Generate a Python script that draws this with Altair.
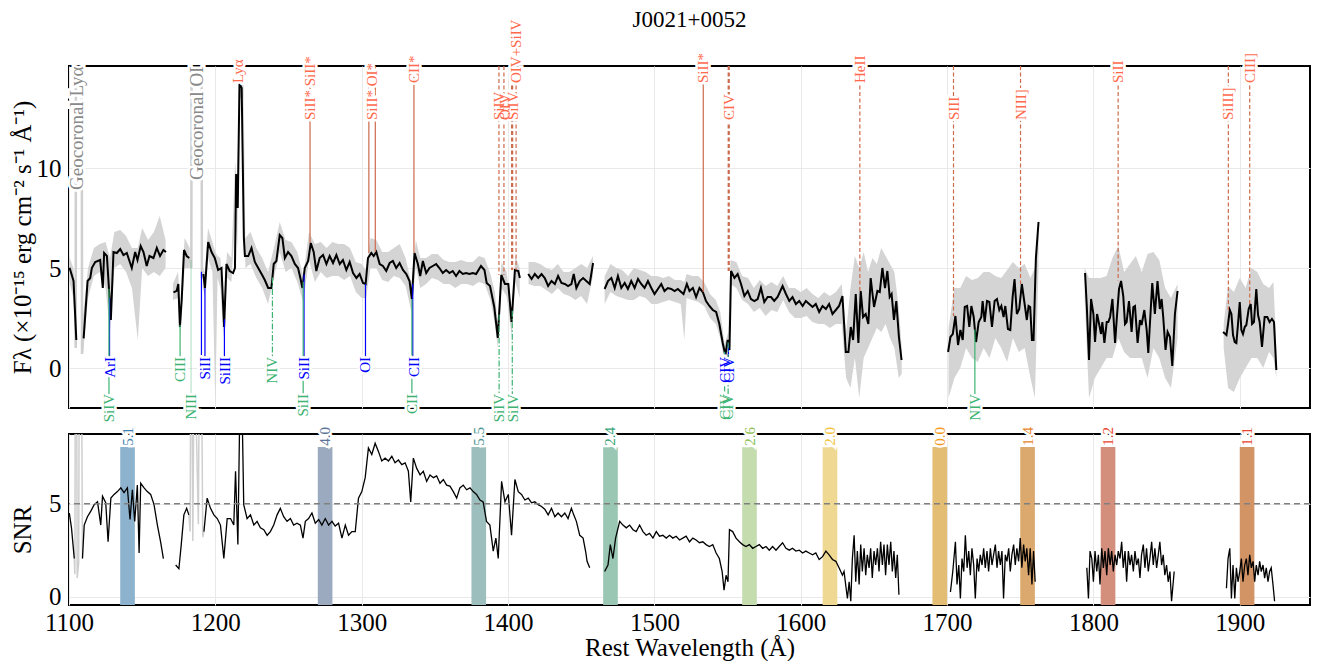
import altair as alt
import pandas as pd
import numpy as np

TITLE = "J0021+0052"
FONT = "Liberation Serif"

# ---------------- smoothed flux (black), None = gap ----------------
flux_wave = [1100.4, 1103.1, 1105.0, None,
             1110.0, 1112.7, 1114.5, 1115.6, 1117.9, 1121.3, 1123.1, 1124.0, 1125.9, 1127.7, 1128.6, 1130.4,
             1132.7, 1135.0, 1137.2, 1139.5, 1142.9, 1145.2, 1146.8, 1149.0, 1150.9, 1153.1, 1155.0, 1157.7,
             1160.0, 1162.2, 1164.5, 1166.3, None,
             1171.4, 1173.6, 1174.7, 1175.8, 1177.0, 1178.6, 1180.4, 1182.2, None,
             1191.8, 1192.9, 1195.1, 1197.4, 1199.6, 1201.9, 1204.2, 1206.0, 1207.6, 1209.8, 1212.1, 1213.4,
             1214.2, 1215.3, 1216.5, 1218.0, 1219.5, 1220.2, 1222.5, 1224.7, 1227.0, 1229.3, 1231.6, 1233.8,
             1236.1, 1238.3, 1239.9, 1241.7, 1244.0, 1245.8, 1247.5, 1249.7, 1252.0, 1254.3, 1256.5, 1258.1,
             1259.5, 1261.1, 1263.4, 1265.2, 1267.2, 1269.0, 1271.3, 1273.6, 1275.9, 1278.1, 1280.4, 1282.7,
             1285.0, 1287.2, 1289.5, 1291.8, 1294.1, 1296.4, 1298.6, 1300.9, 1302.7, 1304.3, 1306.6, 1308.2,
             1310.0, 1312.3, 1314.5, 1316.8, 1319.1, 1321.3, 1323.6, 1325.9, 1328.2, 1330.5, 1332.7, 1334.3,
             1336.1, 1338.4, 1340.0, 1341.8, 1344.1, 1346.3, 1348.6, 1350.9, 1353.1, 1355.4, 1357.7, 1360.0,
             1362.2, 1364.5, 1366.8, 1369.1, 1371.3, 1373.6, 1375.9, 1378.2, 1381.5, 1383.9, 1385.4, 1387.7,
             1390.6, 1393.0, 1395.4, 1397.9, 1400.2, 1402.4, 1404.7, 1407.0, 1408.1, None,
             1413.8, 1416.1, 1418.3, 1420.6, 1422.9, 1425.1, 1427.4, 1429.7, 1432.0, 1434.2, 1436.5, 1438.8,
             1441.0, 1443.3, 1444.9, 1446.7, 1449.0, 1451.3, 1453.5, 1455.8, 1458.1, None,
             1466.0, 1468.3, 1470.6, 1472.9, 1475.1, 1477.4, 1479.7, 1481.9, 1484.2, 1486.5, 1488.8, 1491.0,
             1493.3, 1495.6, 1497.9, 1500.1, 1502.4, 1504.7, 1506.9, 1509.2, 1511.5, 1513.8, 1516.0, 1518.3,
             1519.9, 1522.2, 1524.0, 1526.3, 1528.5, 1530.8, 1533.1, 1535.3, 1537.6, 1539.9, 1542.2, 1544.4,
             1546.7, 1548.5, 1550.1, 1551.3, 1552.4, 1554.7, 1556.9, 1559.2, 1561.5, 1563.8, 1566.0, 1568.3,
             1570.6, 1572.8, 1575.1, 1577.4, 1579.7, 1581.9, 1584.2, 1587.6, 1589.9, 1592.2, 1594.4, 1596.7,
             1599.0, 1601.3, 1603.5, 1605.8, 1608.1, 1610.3, 1612.6, 1614.9, 1617.2, 1619.4, 1621.7, 1624.0,
             1626.2, 1628.5, 1630.8, 1632.6, 1634.2, 1635.8, 1637.6, 1639.4, 1641.0, 1642.6, 1644.4, 1646.2,
             1647.8, 1650.1, 1652.4, 1654.0, 1655.8, 1657.6, 1659.2, 1660.8, 1662.1, 1663.7, 1665.3, 1667.1,
             1668.9, None,
             1700.7, 1702.3, 1703.9, 1705.7, 1707.5, 1709.1, 1710.7, 1712.1, 1713.7, 1715.2, 1716.6, 1718.2,
             1719.8, 1721.6, 1723.4, 1724.3, 1725.7, 1727.3, 1728.9, 1730.7, 1732.5, 1734.1, 1735.7, 1737.1,
             1738.6, 1739.8, 1741.6, 1743.2, 1744.8, 1746.1, 1747.7, 1749.3, 1751.1, 1753.0, 1754.5, 1755.7,
             1756.8, 1758.0, 1759.1, 1760.7, 1762.5, None,
             1794.3, 1795.5, 1797.0, 1798.4, 1800.0, 1801.1, 1802.5, 1803.9, 1805.2, 1806.1, 1807.5, 1809.1,
             1810.2, 1811.4, 1813.0, 1814.8, 1815.9, 1817.5, 1818.9, 1820.4, 1821.6, 1822.7, 1824.3, 1826.1,
             1827.3, 1828.4, 1830.2, 1831.8, 1832.9, 1834.8, 1836.4, 1837.5, 1838.6, 1840.2, 1842.0, 1843.8,
             1845.4, 1846.6, 1847.7, 1849.3, 1850.7, 1852.3, 1853.9, 1855.7, 1857.5, None,
             1888.6, 1890.9, 1892.0, 1893.2, 1894.3, 1895.4, 1896.6, 1897.7, 1898.8, 1900.0, 1901.1, 1902.2,
             1903.4, 1904.5, 1906.1, 1907.5, 1908.4, 1909.7, 1911.3, 1912.5, 1913.6, 1915.2, 1917.0, 1918.8,
             1920.4, 1922.0, 1923.4, 1925.0]
flux_smooth = [5.01, 4.35, 1.40, None,
               1.48, 4.35, 4.5, 5.0, 5.3, 5.4, 4.0, 5.75, 5.6, 3.5, 2.4, 5.8,
               5.75, 5.95, 5.65, 5.75, 5.0, 5.8, 5.4, 6.1, 5.8, 5.1, 5.6, 5.5,
               6.0, 5.6, 5.9, 5.8, None,
               3.78, 3.86, 4.2, 2.05, 3.4, 5.9, 5.6, 5.5, None,
               4.7, 4.0, 6.3, 5.8, 5.5, 4.9, 5.0, 2.05, 5.2, 4.85, 4.75, 5.0,
               9.7, 8.0, 14.2, 14.0, 6.5, 5.6, 5.6, 6.0, 5.3, 5.0, 4.7, 4.4,
               4.0, 4.0, 5.2, 5.35, 6.65, 6.5, 5.5, 5.8, 5.6, 5.2, 5.0, 4.5,
               4.0, 5.0, 5.35, 6.25, 5.8, 4.85, 5.5, 5.65, 5.2, 5.6, 5.25, 5.65,
               5.2, 5.4, 4.9, 5.3, 4.75, 4.5, 4.7, 4.25, 4.2, 5.5, 5.75, 5.6,
               5.8, 5.2, 5.1, 4.85, 5.25, 5.35, 5.0, 5.25, 4.9, 4.7, 4.35, 3.45,
               5.75, 5.2, 4.6, 5.35, 4.75, 5.0, 5.1, 5.2, 5.0, 4.75, 4.9, 4.75,
               4.85, 4.6, 4.85, 4.7, 4.75, 4.7, 4.75, 4.7, 5.1, 4.9, 4.25, 4.1,
               3.05, 1.5, 4.65, 4.2, 4.2, 2.3, 4.9, 4.85, 4.5, None,
               4.7, 4.45, 4.7, 4.5, 4.7, 4.5, 4.1, 4.35, 4.2, 4.6, 4.25, 4.2,
               4.1, 4.2, 4.7, 4.0, 4.35, 4.5, 4.35, 4.2, 5.25, None,
               3.95, 4.35, 4.5, 4.0, 4.6, 4.0, 4.25, 3.95, 4.35, 4.0, 4.45, 4.2,
               4.0, 4.35, 4.0, 3.7, 3.95, 4.2, 3.85, 4.0, 3.95, 3.85, 3.95, 3.8,
               3.7, 4.2, 3.85, 4.0, 3.55, 4.0, 3.8, 3.35, 3.1, 2.9, 2.8, 2.2,
               1.25, 0.65, 1.4, 0.9, 4.85, 4.5, 4.7, 4.2, 3.6, 3.85, 3.45, 3.35,
               3.45, 4.0, 3.3, 3.55, 3.55, 3.35, 3.55, 4.1, 3.7, 3.35, 3.55, 3.2,
               3.35, 3.1, 3.35, 3.2, 3.05, 3.2, 2.8, 3.1, 2.95, 3.2, 2.7, 2.9,
               3.1, 3.6, 0.8, 0.8, 2.05, 1.4, 3.7, 1.25, 3.85, 2.55, 2.7, 2.2,
               4.5, 3.05, 3.85, 3.8, 5.0, 4.0, 4.85, 3.55, 3.7, 2.4, 3.35, 1.55,
               0.4, None,
               0.8, 1.55, 1.7, 2.6, 1.15, 1.9, 1.4, 3.05, 3.1, 2.05, 3.1, 2.55,
               1.3, 2.3, 2.55, 3.35, 2.3, 3.35, 3.3, 2.05, 3.35, 3.45, 2.9, 3.1,
               2.55, 3.1, 1.95, 1.9, 3.55, 4.45, 2.7, 2.95, 4.2, 3.2, 2.4, 3.1,
               3.05, 1.4, 1.4, 5.5, 7.3, None,
               4.75, 3.05, 0.4, 3.45, 2.7, 1.3, 2.7, 2.2, 1.7, 2.3, 1.25, 2.3,
               2.3, 2.55, 3.45, 1.25, 2.4, 3.95, 4.35, 3.6, 2.2, 2.3, 3.35, 1.8,
               3.05, 3.1, 1.25, 2.4, 2.15, 2.9, 1.9, 0.75, 2.2, 4.25, 2.7, 4.35,
               2.95, 3.45, 2.55, 0.9, 1.8, 1.55, 0.1, 2.7, 3.85, None,
               1.8, 1.65, 2.2, 2.9, 2.7, 1.65, 1.3, 1.25, 2.2, 3.3, 1.9, 1.7,
               2.05, 2.15, 2.95, 3.2, 2.2, 2.3, 3.95, 2.65, 2.3, 1.05, 2.55, 2.55,
               2.3, 2.45, 2.3, -0.1]

# ---------------- raw flux spread (light grey envelope) ----------------
raw_wave = [1100.0, 1103.0, 1104.5, None,
            1109.5, 1113.0, 1117.0, 1121.0, 1125.0, 1128.0, 1131.0, 1135.0, 1139.0, 1143.0, 1147.0, 1150.0,
            1154.0, 1158.0, 1162.0, 1166.0, None,
            1171.0, 1174.5, 1176.0, 1179.0, 1182.5, None,
            1191.5, 1192.8, 1195.0, 1198.0, 1200.0, 1201.5, 1203.5, 1205.5, 1208.0, 1211.0, 1213.5, 1215.0,
            1216.5, 1219.0, 1220.5, 1224.0, 1228.0, 1232.0, 1236.0, 1240.0, 1244.0, 1248.0, 1252.0, 1256.0,
            1260.0, 1264.0, 1268.0, 1272.0, 1276.0, 1280.0, 1284.0, 1288.0, 1292.0, 1296.0, 1300.0, 1303.0,
            1306.0, 1310.0, 1314.0, 1318.0, 1322.0, 1326.0, 1330.0, 1334.0, 1337.0, 1340.0, 1344.0, 1348.0,
            1352.0, 1356.0, 1360.0, 1364.0, 1368.0, 1372.0, 1376.0, 1380.0, 1384.0, 1388.0, 1391.0, 1393.0,
            1395.5, 1399.0, 1402.5, 1405.0, 1408.0, None,
            1414.0, 1418.0, 1422.0, 1426.0, 1430.0, 1434.0, 1438.0, 1442.0, 1446.0, 1450.0, 1454.0, 1458.0, None,
            1466.0, 1470.0, 1474.0, 1478.0, 1482.0, 1486.0, 1490.0, 1494.0, 1498.0, 1502.0, 1506.0, 1510.0,
            1514.0, 1518.0, 1520.5, 1522.0, 1526.0, 1530.0, 1534.0, 1538.0, 1542.0, 1545.0, 1548.0, 1550.5,
            1552.0, 1556.0, 1560.0, 1564.0, 1568.0, 1572.0, 1576.0, 1580.0, 1584.0, 1588.0, 1592.0, 1596.0,
            1600.0, 1604.0, 1608.0, 1612.0, 1616.0, 1620.0, 1624.0, 1628.0, 1631.0, 1634.0, 1637.0, 1640.0,
            1643.0, 1646.0, 1649.0, 1652.0, 1655.0, 1658.0, 1661.0, 1664.0, 1667.0, 1669.0, None,
            1701.0, 1705.0, 1709.0, 1713.0, 1717.0, 1721.0, 1725.0, 1729.0, 1733.0, 1737.0, 1741.0, 1745.0,
            1749.0, 1753.0, 1757.0, 1760.0, 1762.5, None,
            1794.0, 1797.0, 1801.0, 1805.0, 1809.0, 1813.0, 1817.0, 1821.0, 1825.0, 1829.0, 1833.0, 1837.0,
            1841.0, 1845.0, 1849.0, 1853.0, 1857.5, None,
            1889.0, 1892.0, 1896.0, 1900.0, 1904.0, 1908.0, 1912.0, 1916.0, 1920.0, 1923.0, 1925.0]
raw_lo = [4.4, 3.5, 1.0, None,
          0.7, 3.5, 4.6, 4.8, 4.0, 1.8, 5.0, 5.2, 4.8, 4.0, 1.4, 5.0,
          4.6, 4.8, 4.6, 5.0, None,
          3.4, 3.5, 1.6, 5.0, 5.0, None,
          4.0, 3.6, 5.5, 4.8, -1.9, 4.5, 4.0, 1.5, 4.5, 4.3, 7.5, 6.0,
          13.5, 13.5, 5.0, 5.2, 4.5, 4.0, 3.2, 4.5, 5.8, 4.8, 5.0, 4.3,
          3.3, 5.4, 4.3, 4.8, 4.5, 4.6, 4.6, 4.4, 4.6, 3.8, 3.5, 3.5,
          5.0, 5.0, 4.4, 4.3, 4.6, 4.5, 4.1, 2.8, 5.1, 4.0, 4.2, 4.5,
          4.4, 4.2, 4.2, 4.0, 4.2, 4.2, 4.1, 4.3, 4.2, 3.4, 2.2, 1.0,
          4.0, 3.6, 1.6, 4.3, 3.5, None,
          4.2, 4.1, 4.1, 3.9, 3.7, 4.0, 3.7, 3.6, 3.4, 3.6, 3.2, 4.6, None,
          3.2, 3.8, 3.6, 3.5, 3.4, 3.4, 3.6, 3.5, 3.2, 3.2, 3.3, 3.4,
          3.3, 3.2, 1.4, 3.5, 3.4, 3.3, 3.1, 2.5, 2.2, 1.5, 0.3, 0.5,
          4.2, 4.0, 3.4, 3.2, 2.8, 3.0, 2.6, 2.9, 2.8, 3.4, 2.8, 2.5,
          2.5, 2.6, 2.3, 2.2, 2.2, 2.0, 2.2, 2.2, -0.5, -1.0, 0.5, -1.5,
          0.5, 1.0, 1.5, 2.0, 1.8, 2.2, 1.5, 1.0, -0.5, -0.3, None,
          -1.5, -0.5, 0.0, 1.0, 0.5, 0.3, 1.0, 0.5, 1.5, 1.0, 0.3, 1.5,
          0.8, 1.0, -0.5, -1.5, 5.0, None,
          3.5, -1.5, -0.5, 0.0, 0.5, 0.5, 1.5, 0.8, 0.5, 0.5, 0.5, -0.5,
          1.0, 0.5, -0.5, -1.0, 1.5, None,
          1.0, -1.0, -1.2, -0.5, 0.0, 0.5, 0.5, 0.0, 0.8, 0.5, -0.5]
raw_hi = [5.6, 5.0, 4.0, None,
          2.5, 5.0, 6.0, 6.2, 6.3, 5.5, 6.8, 6.9, 6.6, 6.0, 6.0, 7.0,
          6.4, 6.8, 7.6, 6.4, None,
          4.2, 4.8, 3.0, 6.5, 6.0, None,
          5.0, 4.8, 7.0, 6.3, 5.8, 5.6, 5.5, 3.0, 5.8, 5.5, 10.3, 9.0,
          16.0, 16.0, 6.5, 6.8, 6.0, 5.5, 4.8, 6.0, 7.3, 6.4, 6.3, 5.8,
          4.6, 6.8, 6.2, 6.3, 6.0, 6.3, 6.2, 6.2, 6.0, 5.3, 5.2, 4.9,
          6.5, 6.4, 5.8, 5.8, 6.0, 6.2, 5.5, 4.2, 6.4, 5.5, 5.5, 5.7,
          5.7, 5.4, 5.3, 5.3, 5.4, 5.3, 5.3, 5.6, 5.5, 4.7, 3.8, 2.2,
          5.3, 4.8, 2.9, 5.6, 5.0, None,
          5.3, 5.3, 5.2, 5.0, 4.9, 5.2, 4.8, 4.8, 5.0, 5.2, 5.0, 5.6, None,
          4.6, 5.2, 5.0, 4.9, 4.6, 5.0, 4.9, 4.8, 4.6, 4.6, 4.5, 4.6,
          4.4, 4.4, 4.3, 4.7, 4.6, 4.6, 4.3, 3.7, 3.4, 2.8, 1.2, 1.8,
          5.4, 5.3, 4.6, 4.5, 4.0, 4.4, 4.1, 4.3, 4.1, 4.6, 4.0, 4.0,
          3.8, 4.0, 3.7, 3.5, 3.8, 3.6, 3.8, 4.2, 1.8, 4.0, 5.6, 5.0,
          5.8, 4.8, 5.5, 5.2, 6.0, 5.6, 5.2, 4.8, 3.0, 1.0, None,
          2.0, 4.0, 4.0, 4.6, 4.4, 4.5, 4.8, 4.8, 4.6, 4.5, 4.9, 5.3,
          5.0, 5.2, 4.5, 5.0, 7.5, None,
          5.0, 4.5, 4.5, 4.5, 4.6, 5.5, 6.1, 4.8, 5.2, 5.6, 4.8, 5.7,
          5.8, 5.4, 4.0, 3.5, 4.2, None,
          2.2, 4.1, 3.8, 4.5, 4.0, 5.0, 4.8, 4.2, 4.0, 4.3, 1.0]

# geocoronal (masked) raw flux, drawn in grey, runs off the top of the panel
geo_wave = [1104.2, 1104.6, 1104.8, 1108.6, 1108.9, 1109.6, None,
            1182.5, 1183.6, 1184.0, 1190.4, 1190.8, 1191.8]
geo_flux = [2.5, 1.0, 30.0, 30.0, 0.7, 1.5, None,
            5.5, 5.0, 30.0, 30.0, 4.5, 4.7]

# ---------------- SNR (black) ----------------
snr_wave = [1100.2, 1101.7, 1103.6, None,
            1109.2, 1110.4, 1112.6, 1114.9, 1117.2, 1119.5, 1121.7, 1122.9, 1125.1, 1126.7, 1128.6, 1130.8,
            1133.1, 1135.4, 1137.6, 1139.9, 1141.7, 1143.3, 1144.9, 1146.7, 1147.9, 1149.0, 1151.3, 1153.5,
            1155.8, 1158.1, 1160.4, 1162.6, 1164.5, None,
            1172.9, 1175.1, 1176.7, 1178.5, 1180.4, 1181.9, None,
            1192.2, 1194.4, 1196.7, 1199.0, 1201.3, 1203.5, 1205.8, 1208.1, 1210.4, 1212.6, 1213.8, 1215.4,
            1216.7, 1218.3, 1219.4, 1221.7, 1224.0, 1226.3, 1228.5, 1230.8, 1233.1, 1235.4, 1237.6, 1239.9,
            1242.2, 1244.4, 1246.7, 1249.0, 1251.3, 1253.5, 1255.8, 1258.1, 1259.9, 1261.5, 1263.7, 1266.0,
            1268.3, 1270.6, 1272.8, 1275.1, 1277.4, 1279.7, 1281.9, 1284.2, 1286.5, 1288.8, 1291.0, 1293.3,
            1295.6, 1296.7, 1297.8, 1300.1, 1302.4, 1304.6, 1306.9, 1309.2, 1311.5, 1313.7, 1316.0, 1318.3,
            1320.6, 1322.8, 1325.1, 1327.4, 1329.7, 1331.9, 1333.5, 1335.3, 1337.6, 1339.9, 1342.1, 1344.4,
            1346.7, 1349.0, 1351.2, 1353.5, 1355.8, 1358.0, 1360.3, 1362.6, 1364.9, 1367.1, 1369.4, 1371.7,
            1374.0, 1376.2, 1378.5, 1380.8, 1383.0, 1385.3, 1387.6, 1389.9, 1391.7, 1393.3, 1395.6, 1397.9,
            1400.2, 1402.4, 1404.7, 1407.0, 1409.2, 1411.5, 1413.8, 1416.1, 1418.3, 1420.6, 1422.9, 1425.1,
            1427.4, 1429.7, 1432.0, 1434.2, 1436.5, 1438.8, 1441.0, 1443.3, 1444.9, 1446.7, 1449.0, 1451.3,
            1453.1, 1454.0, 1455.8, None,
            1466.0, 1468.3, 1469.9, 1471.7, 1473.5, 1476.3, 1478.5, 1480.8, 1483.1, 1485.4, 1487.6, 1489.9,
            1492.2, 1494.4, 1496.7, 1499.0, 1501.3, 1503.5, 1505.8, 1508.1, 1510.4, 1512.6, 1514.9, 1517.2,
            1519.4, 1521.7, 1524.0, 1526.3, 1528.5, 1530.8, 1533.1, 1535.3, 1537.6, 1539.9, 1542.2, 1544.4,
            1546.3, 1547.6, 1549.0, 1550.3, 1551.3, 1553.5, 1555.8, 1558.1, 1560.3, 1562.6, 1564.9, 1567.2,
            1569.4, 1571.7, 1574.0, 1576.3, 1578.5, 1580.8, 1583.1, 1585.3, 1587.6, 1589.9, 1592.2, 1594.4,
            1596.7, 1599.0, 1601.3, 1603.5, 1605.8, 1608.1, 1610.3, 1612.6, 1614.9, 1617.2, 1619.4, 1621.7,
            1624.0, 1626.2, 1628.5, 1629.6, 1631.9, 1633.1, 1634.2, 1635.3, 1636.5, 1637.6, 1638.7, 1639.9,
            1641.0, 1642.1, 1643.3, 1644.4, 1645.5, 1646.7, 1647.8, 1648.9, 1650.1, 1651.2, 1652.4, 1653.5,
            1654.6, 1655.8, 1656.9, 1658.0, 1659.2, 1660.3, 1661.5, 1662.6, 1663.7, 1664.9, 1666.0, 1667.1, None,
            1702.3, 1703.9, 1705.7, 1706.8, 1708.0, 1709.1, 1710.2, 1711.4, 1712.5, 1713.7, 1714.8, 1715.9,
            1717.0, 1718.2, 1719.3, 1720.5, 1721.6, 1722.7, 1723.9, 1725.0, 1726.1, 1727.3, 1728.4, 1729.6,
            1730.7, 1731.8, 1733.0, 1734.1, 1735.2, 1736.4, 1737.5, 1738.6, 1739.8, 1740.9, 1742.1, 1743.2,
            1744.3, 1745.5, 1746.6, 1747.7, 1748.9, 1750.0, 1751.1, 1752.3, 1753.4, 1754.5, 1755.7, 1756.8,
            1758.0, 1759.1, 1760.2, None,
            1795.5, 1796.6, 1797.7, 1798.9, 1800.0, 1801.1, 1802.3, 1803.4, 1804.5, 1805.7, 1806.8, 1807.9,
            1809.1, 1810.2, 1811.4, 1812.5, 1813.6, 1814.8, 1815.9, 1817.0, 1818.2, 1819.3, 1820.4, 1821.6,
            1822.7, 1823.9, 1825.0, 1826.1, 1827.3, 1828.4, 1829.5, 1830.7, 1831.8, 1832.9, 1834.1, 1835.2,
            1836.3, 1837.5, 1838.6, 1839.8, 1840.9, 1842.0, 1843.2, 1844.3, 1845.4, 1846.6, 1847.7, 1848.8,
            1850.0, 1851.1, 1852.3, 1853.4, 1855.2, None,
            1890.9, 1892.0, 1893.2, 1894.3, 1895.4, 1896.6, 1897.7, 1898.8, 1900.0, 1901.1, 1902.2, 1903.4,
            1904.5, 1905.6, 1906.8, 1907.9, 1909.1, 1910.2, 1911.3, 1912.5, 1913.6, 1914.7, 1915.9, 1917.0,
            1918.1, 1919.3, 1920.4, 1921.5, 1922.7, 1923.8]
snr_val = [4.5, 3.7, 2.05, None,
           2.05, 3.85, 4.3, 4.6, 4.95, 5.1, 3.85, 5.4, 5.05, 2.95, 5.3, 5.5,
           5.65, 5.85, 5.6, 5.85, 4.15, 5.75, 4.05, 6.0, 2.35, 6.1, 5.85, 5.65,
           5.5, 4.95, 3.85, 2.95, 2.05, None,
           1.7, 1.5, 2.8, 4.4, 4.75, 4.4, None,
           3.5, 5.3, 4.75, 4.4, 4.2, 3.85, 2.05, 4.2, 4.2, 3.85, 6.75, 2.8,
           10.0, 10.0, 4.95, 4.2, 4.4, 3.85, 4.05, 3.7, 3.6, 3.3, 3.5, 3.85,
           4.4, 4.75, 4.3, 4.05, 4.2, 3.85, 3.95, 3.85, 3.15, 4.05, 4.2, 4.5,
           3.95, 4.15, 3.85, 4.2, 3.85, 4.05, 3.8, 3.95, 3.15, 3.85, 3.3, 3.5,
           3.5, 4.4, 5.3, 5.65, 6.4, 8.0, 7.65, 8.25, 7.8, 7.3, 7.45, 7.3,
           7.55, 7.2, 7.35, 7.1, 7.2, 6.75, 5.1, 7.45, 6.9, 6.55, 6.75, 6.2,
           6.55, 6.4, 6.5, 6.1, 6.3, 6.0, 5.95, 5.65, 5.3, 5.85, 6.0, 5.75,
           5.85, 5.65, 5.5, 5.2, 5.1, 4.05, 3.85, 2.45, 3.15, 2.05, 6.2, 5.1,
           5.5, 3.3, 6.3, 5.65, 5.5, 5.2, 5.3, 5.05, 5.1, 4.95, 4.85, 4.7,
           4.4, 4.75, 4.3, 4.5, 4.3, 4.5, 4.2, 4.75, 4.4, 4.05, 3.3, 3.15,
           2.4, 1.9, 1.55, None,
           1.35, 1.7, 2.8, 2.05, 3.15, 4.05, 3.85, 3.7, 3.85, 3.6, 3.5, 3.85,
           3.5, 3.3, 3.4, 3.15, 3.5, 3.25, 3.3, 3.15, 3.3, 3.15, 3.25, 3.05,
           3.15, 3.25, 2.95, 3.15, 3.05, 2.9, 2.95, 2.8, 2.7, 2.8, 2.35, 2.05,
           1.35, 0.35, 1.15, 0.8, 3.6, 3.5, 3.15, 2.95, 2.8, 2.7, 2.8, 2.6,
           2.7, 2.8, 2.6, 2.7, 2.5, 2.7, 2.5, 2.7, 2.9, 2.6, 2.5, 2.6,
           2.45, 2.5, 2.35, 2.45, 2.35, 2.25, 2.35, 2.0, 2.15, 2.45, 2.25, 2.0,
           1.9, 1.55, 1.15, 1.35, -0.1, 0.8, -0.25, 2.05, 3.3, 0.8, 2.45, 0.65,
           2.8, 1.35, 2.6, 1.15, 2.25, 1.55, 2.6, 1.0, 2.45, 1.7, 2.6, 1.35,
           2.95, 1.7, 2.8, 1.15, 2.8, 1.7, 2.95, 1.35, 2.45, 1.0, 2.25, 0.1, None,
           0.25, 1.35, 2.95, 0.65, 1.7, -0.1, 2.05, 1.35, 3.3, 1.55, 2.45, 1.15,
           2.6, 1.7, -0.1, 2.05, 1.35, 2.25, 1.7, 2.6, 1.55, 2.45, 1.35, 2.6,
           1.7, 2.25, 2.8, 1.55, 2.45, 1.7, 2.45, -0.1, 2.25, 1.9, 2.6, 1.35,
           2.25, 2.8, 1.7, 2.6, 1.9, 3.15, 1.55, 2.8, 1.9, 2.6, 1.15, 2.6,
           0.65, 2.45, 0.8, None,
           1.55, -0.1, 2.45, 2.05, 0.8, 2.45, 1.35, 2.25, 0.65, 2.6, 1.55, 2.45,
           1.15, 2.6, 1.7, 2.45, 1.35, 2.25, 1.7, 2.45, 2.05, 2.95, 1.55, 2.45,
           0.8, 2.45, 1.7, 2.25, 1.35, 2.45, 1.7, 2.05, 1.0, 2.25, 2.8, 1.55,
           2.6, 1.35, 2.05, 2.95, 1.7, 2.6, 1.55, 2.25, 2.95, 1.7, 2.25, 1.15,
           1.7, 0.8, 1.35, -0.25, 1.35, None,
           0.45, 2.05, 2.6, -0.1, 1.7, -0.1, 1.55, 0.8, 1.35, 2.05, 0.8, 1.7,
           2.05, 1.15, 2.25, 1.55, 1.9, 0.8, 1.7, 1.15, 1.9, 1.35, 1.7, 1.0,
           1.55, 0.8, 1.35, 1.55, 0.65, -0.25]

# geocoronal SNR (grey)
snr_geo_wave = [1103.6, 1104.0, 1104.3, 1105.2, 1105.6, 1106.6, 1107.0, 1108.6, 1109.2, None,
                1181.9, 1182.8, 1183.1, 1184.0, 1184.6, 1185.4, 1186.2, 1188.4, 1189.0, 1190.6, 1191.4, 1192.2]
snr_geo_val = [2.05, 1.2, 12.0, 12.0, 1.0, 1.8, 12.0, 12.0, 2.05, None,
               4.4, 3.5, 12.0, 12.0, 3.0, 12.0, 12.0, 3.9, 12.0, 12.0, 3.2, 3.5]

# ---------------- line identifications ----------------
em_wave = [1215.7, 1264.7, 1304.9, 1309.3, 1335.7, 1393.8, 1397.2, 1402.8, 1405.5,
           1533.4, 1550.8, 1640.4, 1704.4, 1750.2, 1816.9, 1892.2, 1906.8]
em_style = ["solid", "solid", "solid", "solid", "solid", "dashed", "dashed", "dashed", "dashed",
            "solid", "dashed", "dashed", "dashed", "dashed", "dashed", "dashed", "dashed"]
em_width = [1.2, 1.2, 1.2, 1.2, 1.2, 1.2, 1.2, 2.2, 1.2, 1.2, 2.2, 1.2, 1.2, 1.2, 1.2, 1.2, 1.2]

em_lab_wave = [1215.7, 1264.9, 1307.1, 1335.7, 1393.8, 1397.6, 1403.2, 1405.6,
               1533.4, 1550.8, 1640.4, 1704.4, 1750.2, 1816.9, 1892.2, 1906.8]
em_lab_text = ["Lyα", "SiII* SiII*", "SiII* OI*", "CII*", "SiIV", "OIV", "SiIV", "OIV+SiIV",
               "SiII*", "CIV", "HeII", "SIII", "NIII]", "SiII", "SiIII]", "CIII]"]
em_lab_row = ["upper", "lower", "lower", "upper", "lower", "lower", "lower", "upper",
              "upper", "lower", "upper", "lower", "lower", "upper", "lower", "upper"]

abs_wave = [1127.7, 1190.5, 1192.9, 1206.2, 1260.6, 1302.6, 1334.9, 1548.2, 1550.6,
            1127.3, 1175.9, 1183.4, 1239.0, 1260.0, 1334.3, 1393.9, 1402.9, 1548.0, 1550.4, 1719.0]
abs_kind = ["ism"] * 9 + ["host"] * 11
abs_style = ["solid"] * 9 + ["solid", "solid", "faint", "dashdot", "solid", "solid", "dashdot", "dashdot",
                             "dashdot", "dashdot", "solid"]
abs_lab_wave = [1127.9, 1192.6, 1206.3, 1260.9, 1302.4, 1335.5, 1548.4, 1550.9,
                1127.2, 1175.6, 1183.2, 1238.4, 1260.2, 1334.4, 1393.6, 1403.3, 1548.2, 1550.6, 1718.8]
abs_lab_text = ["ArI", "SiII", "SiIII", "SiII", "OI", "CII", "CIV", "CIV",
                "SiIV", "CIII", "NIII", "NIV", "SiII", "CII", "SiIV", "SiIV", "CIV", "CIV", "NIV"]
abs_lab_kind = ["ism"] * 8 + ["host"] * 11
abs_lab_row = ["upper"] * 8 + ["lower", "upper", "lower", "upper", "lower", "lower", "lower", "lower",
                               "lower", "lower", "lower"]
abs_line_row = ["upper", "upper", "upper", "upper", "upper", "upper", "upper", "upper", "upper",
                "lower", "upper", "lower", "upper", "lower", "lower", "lower", "lower", "lower", "lower", "lower"]

geo_lab_wave = [1105.3, 1187.6]
geo_lab_text = ["Geocoronal Lyα", "Geocoronal OI"]
geo_lab_base = [8.9, 9.4]

band_center = [1140, 1275, 1380, 1470, 1565, 1620, 1695, 1755, 1810, 1905]
band_label = ["5.1", "4.0", "5.5", "2.4", "2.6", "2.0", "0.0", "1.4", "1.2", "1.1"]
band_fill = ["#8cb2ce", "#9baabf", "#9cbfbd", "#99c7b4", "#c4dcae", "#eed892",
             "#e3bd73", "#dba86e", "#d48f7c", "#d39465"]
band_text = ["#3f7fad", "#5b7396", "#4b9490", "#3aa57a", "#8cc152", "#f2c33a",
             "#f59a1b", "#e8862c", "#e8442e", "#e8442e"]

# ---------------- layout constants ----------------
X_DOM = [1100, 1948]
F_DOM = [-2.0, 15.1]
S_DOM = [-0.45, 8.75]
W, H1, H2 = 1241, 342, 171
EM_COLOR = "#ff6a4d"
EM_LINE = "#cc6a4c"
ROW_EM = {"upper": 14.25, "lower": 12.4}
ROW_ABS = {"upper": 0.55, "lower": -1.3}
KIND_COLOR = {"ism": "#0000ff", "host": "#3cb371"}
AX_FS = 25


def to_frame(wave, vals):
    rows, seg = [], 0
    for w, v in zip(wave, vals):
        if w is None:
            seg += 1
            continue
        rows.append({"wave": w, "val": v, "seg": seg})
    return pd.DataFrame(rows)


smooth_df = to_frame(flux_wave, flux_smooth)
sw = smooth_df["wave"].to_numpy()
sf = smooth_df["val"].to_numpy()

raw_rows, seg = [], 0
for w, lo, hi in zip(raw_wave, raw_lo, raw_hi):
    if w is None:
        seg += 1
        continue
    raw_rows.append({"wave": w, "lo": lo, "hi": hi, "seg": seg})
raw_df = pd.DataFrame(raw_rows)
geo_df = to_frame(geo_wave, geo_flux)
snr_df = to_frame(snr_wave, snr_val)
snr_geo_df = to_frame(snr_geo_wave, snr_geo_val)

em_df = pd.DataFrame({"wave": em_wave, "style": em_style, "w": em_width})
em_df["top"] = F_DOM[1]
em_df["bot"] = [sf[(sw >= x - 2.0) & (sw <= x + 2.0)].max() for x in em_wave]

em_lab_df = pd.DataFrame({"wave": em_lab_wave, "text": em_lab_text,
                          "y": [ROW_EM[r] for r in em_lab_row]})

abs_df = pd.DataFrame({"wave": abs_wave, "style": abs_style,
                       "color": [KIND_COLOR[k] for k in abs_kind]})
abs_df["top"] = np.interp(abs_df["wave"], sw, sf)
abs_df["bot"] = [ROW_ABS[r] for r in abs_line_row]
abs_df["op"] = [0.35 if s == "faint" else 1.0 for s in abs_style]
abs_df["dash"] = ["dashdot" if s == "dashdot" else "solid" for s in abs_style]

abs_lab_df = pd.DataFrame({"wave": abs_lab_wave, "text": abs_lab_text,
                           "color": [KIND_COLOR[k] for k in abs_lab_kind],
                           "y": [ROW_ABS[r] for r in abs_lab_row]})
geo_lab_df = pd.DataFrame({"wave": geo_lab_wave, "text": geo_lab_text, "y": geo_lab_base})

band_df = pd.DataFrame({"c": band_center, "label": band_label, "fill": band_fill, "tcol": band_text})
band_df["x1"] = band_df["c"] - 5
band_df["x2"] = band_df["c"] + 5
band_df["y1"] = S_DOM[0]
band_df["y2"] = 8.05
band_df["ly"] = 8.12

xs = alt.Scale(domain=X_DOM, nice=False, zero=False)
fs = alt.Scale(domain=F_DOM, nice=False, zero=False)
ss = alt.Scale(domain=S_DOM, nice=False, zero=False)
dash_scale = alt.Scale(domain=["solid", "dashed", "dashdot"], range=[[1, 0], [4, 2.5], [6, 2, 1.5, 2]])

x_top = alt.X("wave:Q", scale=xs,
              axis=alt.Axis(values=list(range(1100, 2000, 100)), labels=False, ticks=False, domain=False,
                            title=None, grid=True))
x_bot = alt.X("wave:Q", scale=xs,
              axis=alt.Axis(values=list(range(1100, 2000, 100)), ticks=False, domain=False, grid=True,
                            labelFlush=False, labelOverlap=False,
                            title="Rest Wavelength (Å)", labelPadding=5, titlePadding=0, format="d"))

# ---------- top panel ----------
raw_layer = alt.Chart(raw_df).mark_area(color="#d4d4d4", clip=True, opacity=1).encode(
    x=x_top,
    y=alt.Y("lo:Q", scale=fs,
            axis=alt.Axis(values=[0, 5, 10], ticks=False, domain=False, grid=True, labelPadding=8,
                          labelFlush=False,
                          title="Fλ (×10⁻¹⁵ erg cm⁻² s⁻¹ Å⁻¹)", titleX=-47, titleY=H1 / 2,
                          titleAngle=270, titleAlign="center", titleBaseline="middle")),
    y2="hi:Q", detail="seg:N")
geo_layer = alt.Chart(geo_df).mark_line(color="#cfcfcf", strokeWidth=2.5, clip=True).encode(
    x="wave:Q", y=alt.Y("val:Q", scale=fs), detail="seg:N")
smooth_layer = alt.Chart(smooth_df).mark_line(color="black", strokeWidth=2, clip=True).encode(
    x="wave:Q", y=alt.Y("val:Q", scale=fs), detail="seg:N")
em_rules = alt.Chart(em_df).mark_rule(color=EM_LINE, clip=True).encode(
    x="wave:Q", y=alt.Y("top:Q", scale=fs), y2="bot:Q",
    strokeDash=alt.StrokeDash("style:N", scale=dash_scale, legend=None),
    strokeWidth=alt.StrokeWidth("w:Q", scale=None, legend=None))
abs_rules = alt.Chart(abs_df).mark_rule(strokeWidth=1.2, clip=True).encode(
    x="wave:Q", y=alt.Y("top:Q", scale=fs), y2="bot:Q",
    color=alt.Color("color:N", scale=None),
    opacity=alt.Opacity("op:Q", scale=None),
    strokeDash=alt.StrokeDash("dash:N", scale=dash_scale, legend=None))


def label_layers(df, align, color_enc, size, stroke_w=5):
    base = alt.Chart(df)
    halo = base.mark_text(angle=270, align=align, baseline="middle", font=FONT, fontSize=size,
                          stroke="white", strokeWidth=stroke_w, color="white").encode(
        x="wave:Q", y=alt.Y("y:Q", scale=fs), text="text:N")
    txt = base.mark_text(angle=270, align=align, baseline="middle", font=FONT, fontSize=size).encode(
        x="wave:Q", y=alt.Y("y:Q", scale=fs), text="text:N", color=color_enc)
    return [halo, txt]


em_labels = label_layers(em_lab_df, "left", alt.value(EM_COLOR), 15)
abs_labels = label_layers(abs_lab_df, "right", alt.Color("color:N", scale=None), 15)
geo_labels = label_layers(geo_lab_df, "left", alt.value("#8a8a8a"), 19)

title_mark = alt.Chart(pd.DataFrame({"t": [TITLE]})).mark_text(
    font=FONT, fontSize=23, baseline="middle", align="center", color="black").encode(
    x=alt.value(W / 2), y=alt.value(-46), text="t:N")

top = alt.layer(raw_layer, geo_layer, smooth_layer, em_rules, abs_rules,
                *geo_labels, *em_labels, *abs_labels, title_mark).properties(width=W, height=H1)

# ---------- bottom panel ----------
bands = alt.Chart(band_df).mark_rect().encode(
    x=alt.X("x1:Q", scale=xs), x2="x2:Q",
    y=alt.Y("y1:Q", scale=ss), y2="y2:Q",
    color=alt.Color("fill:N", scale=None))
snr_geo = alt.Chart(snr_geo_df).mark_line(color="#cfcfcf", strokeWidth=1.5, clip=True).encode(
    x="wave:Q", y=alt.Y("val:Q", scale=ss), detail="seg:N")
snr_line = alt.Chart(snr_df).mark_line(color="black", strokeWidth=1.3, clip=True).encode(
    x=x_bot,
    y=alt.Y("val:Q", scale=ss,
            axis=alt.Axis(values=[0, 5], ticks=False, domain=False, grid=True, labelPadding=8,
                          labelFlush=False,
                          title="SNR", titleX=-47, titleY=H2 / 2 + 10, titleAngle=270,
                          titleAlign="center", titleBaseline="middle")),
    detail="seg:N")
snr_ref = alt.Chart(pd.DataFrame({"v": [5]})).mark_rule(color="#808080", strokeWidth=1.5,
                                                         strokeDash=[6, 4]).encode(
    y=alt.Y("v:Q", scale=ss))
band_halo = alt.Chart(band_df).mark_text(angle=270, align="left", baseline="middle", font=FONT,
                                         fontSize=15, stroke="white", strokeWidth=5, color="white").encode(
    x="c:Q", y=alt.Y("ly:Q", scale=ss), text="label:N")
band_txt = alt.Chart(band_df).mark_text(angle=270, align="left", baseline="middle", font=FONT,
                                        fontSize=15).encode(
    x="c:Q", y=alt.Y("ly:Q", scale=ss), text="label:N", color=alt.Color("tcol:N", scale=None))

bottom = alt.layer(bands, snr_geo, snr_line, snr_ref, band_halo, band_txt).properties(width=W, height=H2)

chart = alt.vconcat(top, bottom, spacing=26, bounds="flush").properties(
    padding={"left": 0, "top": 0, "right": 0, "bottom": 0}
).configure(
    font=FONT
).configure_view(
    stroke="black", strokeWidth=2
).configure_axis(
    labelFont=FONT, titleFont=FONT, labelFontSize=AX_FS, titleFontSize=AX_FS, labelColor="black",
    titleColor="black", titleFontWeight="normal", gridColor="#e9e9e9", gridWidth=1
)

chart.save("out.html", embed_options={"renderer": "svg", "actions": False})
